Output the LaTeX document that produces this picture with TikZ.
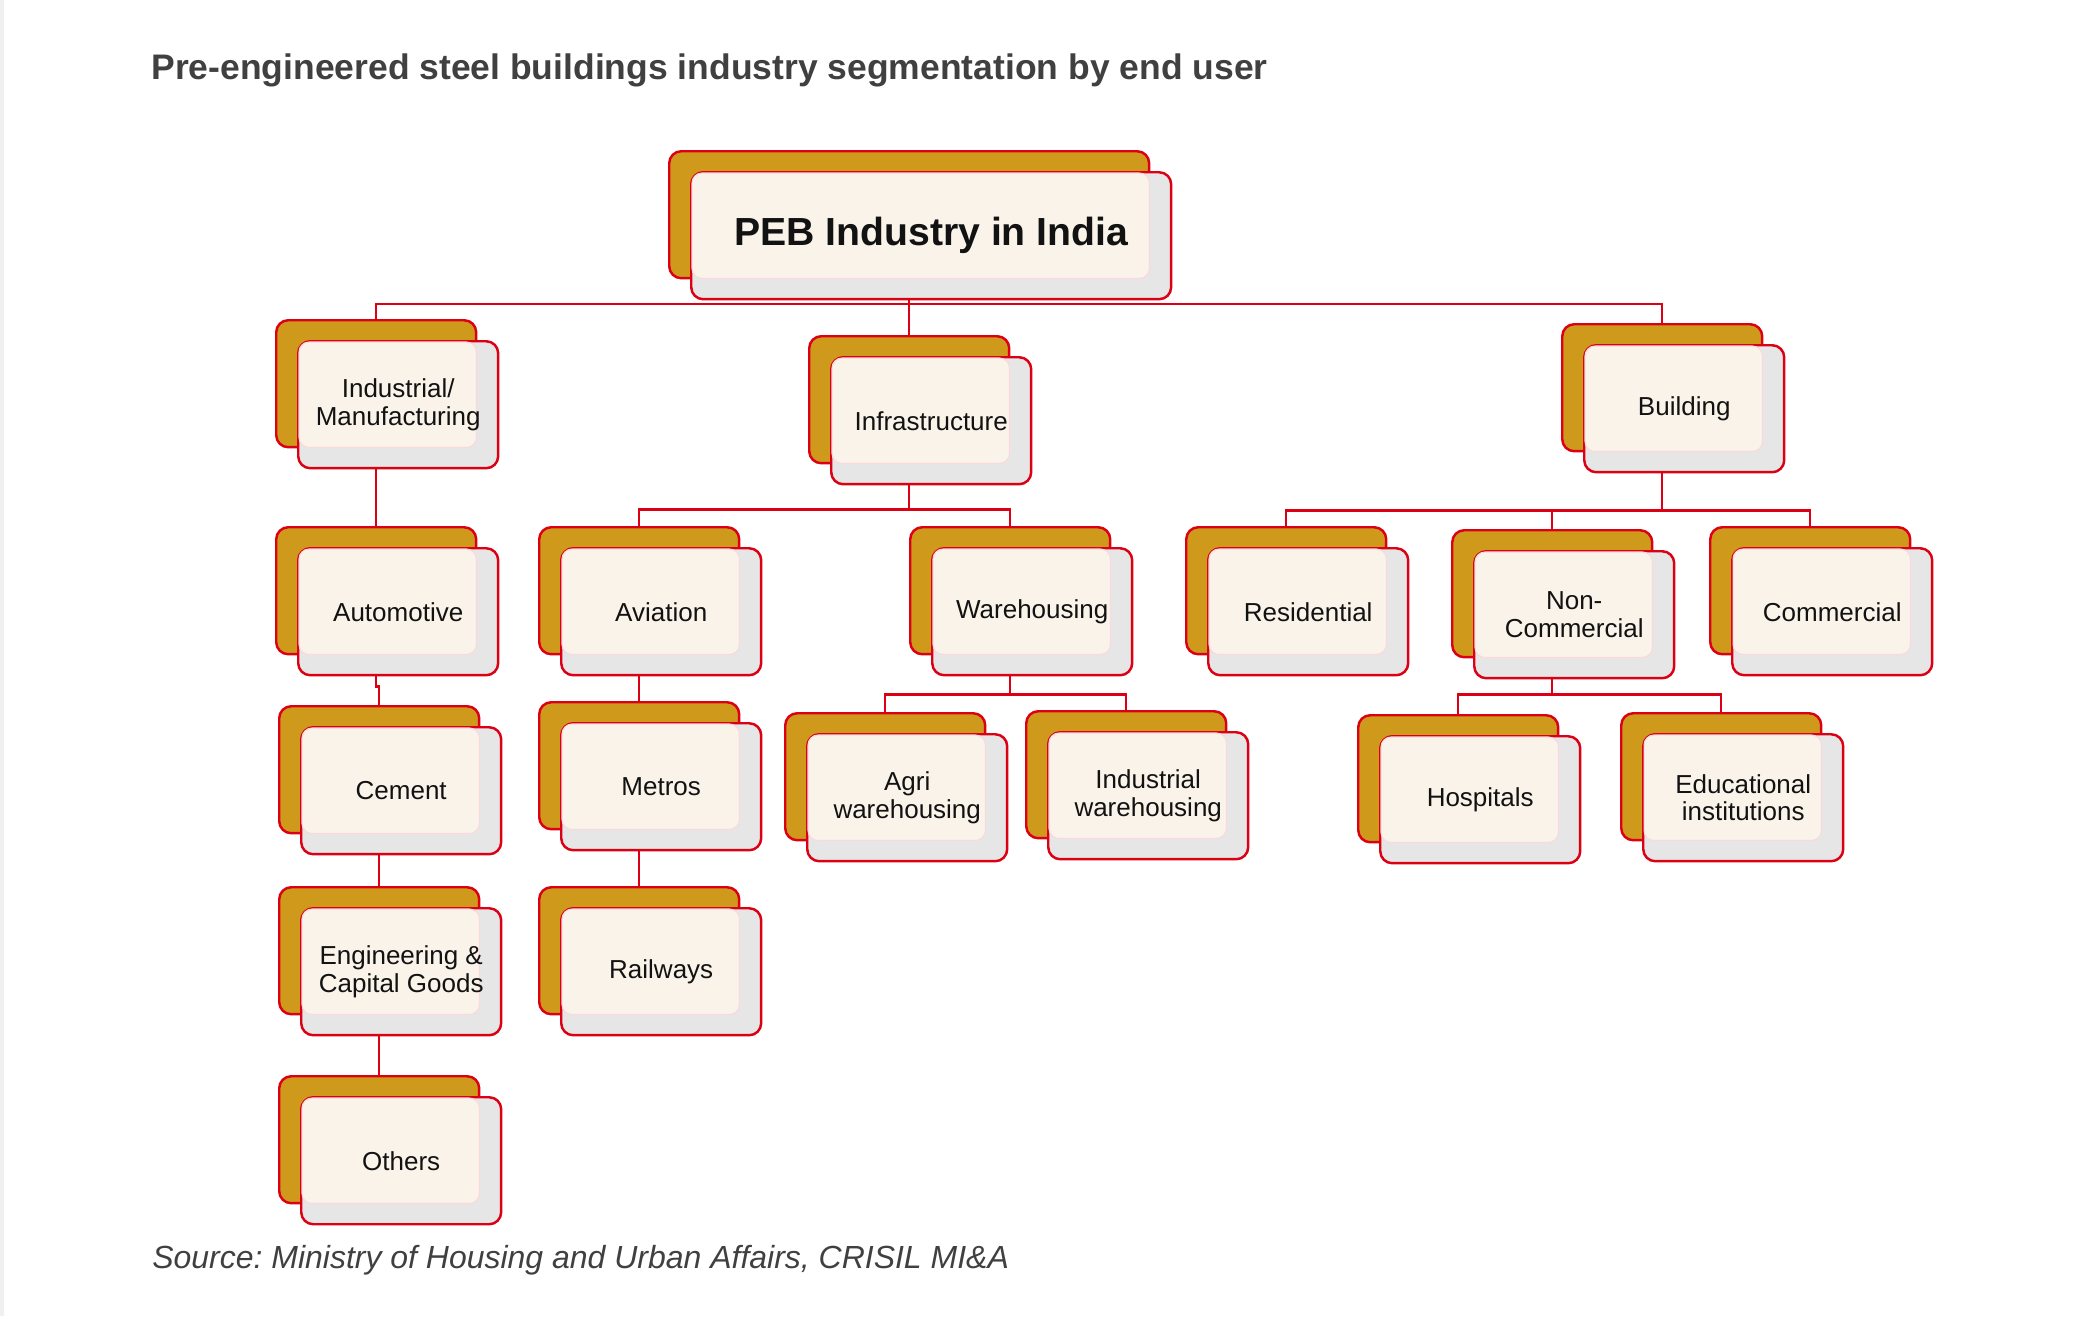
\documentclass[tikz,border=0pt]{standalone}
\usepackage{fontspec}
\setmainfont{Liberation Sans}
\usepackage{tikz}
\usetikzlibrary{positioning, calc, backgrounds}
\definecolor{pebgold}{RGB}{207,153,28}
\definecolor{pebred}{RGB}{220,0,20}
\definecolor{pebgray}{RGB}{230,230,230}
\definecolor{pebcream}{RGB}{250,243,234}
\definecolor{pebtext}{RGB}{64,64,64}
\frenchspacing

\tikzset{
	backbox/.style={draw=pebred, fill=pebgold, line width=1.4pt, rounded corners=0.24cm,
		anchor=north west, minimum width=4cm, minimum height=2.54cm, inner sep=0pt},
	frontbox/.style={draw=pebred, fill=pebgray, line width=1.4pt, rounded corners=0.24cm,
		anchor=north west, minimum width=4cm, minimum height=2.54cm, inner sep=0pt},
	glow/.style={fill=pebcream, draw=pebred!15, line width=0.6pt, rounded corners=0.2cm},
	segtext/.style={align=center, text=black!93, font=\fontsize{14.8}{15.5}\selectfont},
	link/.style={draw=pebred, line width=1.2pt},
}

% back card, front card, light face, label
\newcommand{\segbox}[5][4cm]{%
	\node[backbox, minimum width=#1] (#2) at (#3,#4) {};
	\node[frontbox, minimum width=#1] (#2f) at ($(#2.north west)+(22,21)$) {};
	\path[glow] ($(#2f.north west)+(2,2)$) rectangle ($(#2.south east)+(-1,-1)$);
	\node[segtext] (#2t) at (#2f.center) {#5};}

\begin{document}
\begin{tikzpicture}[x=0.02cm, y=-0.02cm]
	\useasboundingbox (0,0) rectangle (2074,1316);
	\fill[black!6] (0,0) rectangle (4,1316);
	\node[anchor=base west, inner sep=0pt, text=pebtext, font=\fontsize{20.2}{24}\selectfont\bfseries] (title)
		at (151,79) {Pre-engineered steel buildings industry segmentation by end user};

	\segbox[9.6cm]{peb}{668}{150}{\fontsize{22.3}{26}\selectfont\bfseries PEB Industry in India}
	\segbox{ind}{275}{319}{Industrial/\\Manufacturing}
	\segbox{infra}{808}{335}{Infrastructure}
	\segbox{bldg}{1561}{323}{Building}

	\segbox{auto}{275}{526}{Automotive}
	\segbox{avia}{538}{526}{Aviation}
	\segbox{ware}{909}{526}{Warehousing}
	\segbox{resi}{1185}{526}{Residential}
	\segbox{noncom}{1451}{529}{Non-\\Commercial}
	\segbox{comm}{1709}{526}{Commercial}

	\segbox{cem}{278}{705}{Cement}
	\segbox{metro}{538}{701}{Metros}
	\segbox{agri}{784}{712}{Agri\\warehousing}
	\segbox{indware}{1025}{710}{Industrial\\warehousing}
	\segbox{hosp}{1357}{714}{Hospitals}
	\segbox{edu}{1620}{712}{Educational\\institutions}

	\segbox{engg}{278}{886}{Engineering \&\\Capital Goods}
	\segbox{rail}{538}{886}{Railways}
	\segbox{others}{278}{1075}{Others}

	% connectors, behind the cards
	\begin{scope}[on background layer]
		\draw[link] (peb.south) -- ++(0,25) -| (ind.north);
		\draw[link] (peb.south) -- ++(0,25) -| (infra.north);
		\draw[link] (peb.south) -- ++(0,25) -| (bldg.north);
		\draw[link] (ind.south) -- (auto.north);
		\draw[link] (auto.south) -- ++(0,31) -| (cem.north);
		\draw[link] (cem.south) -- (engg.north);
		\draw[link] (engg.south) -- (others.north);
		\draw[link] (infra.south) -- ++(0,45) -| (avia.north);
		\draw[link] (infra.south) -- ++(0,45) -| (ware.north);
		\draw[link] (avia.south) -- (metro.north);
		\draw[link] (metro.south) -- (rail.north);
		\draw[link] (ware.south) -- ++(0,39) -| (agri.north);
		\draw[link] (ware.south) -- ++(0,39) -| (indware.north);
		\draw[link] (bldg.south) -- ++(0,58) -| (resi.north);
		\draw[link] (bldg.south) -- ++(0,58) -| (noncom.north);
		\draw[link] (bldg.south) -- ++(0,58) -| (comm.north);
		\draw[link] (noncom.south) -- ++(0,36) -| (hosp.north);
		\draw[link] (noncom.south) -- ++(0,36) -| (edu.north);
	\end{scope}

	\node[anchor=base west, inner sep=0pt, text=pebtext, font=\fontsize{18.2}{22}\selectfont\itshape] (source)
		at (152,1268) {Source: Ministry of Housing and Urban Affairs, CRISIL MI\&A};
\end{tikzpicture}
\end{document}
